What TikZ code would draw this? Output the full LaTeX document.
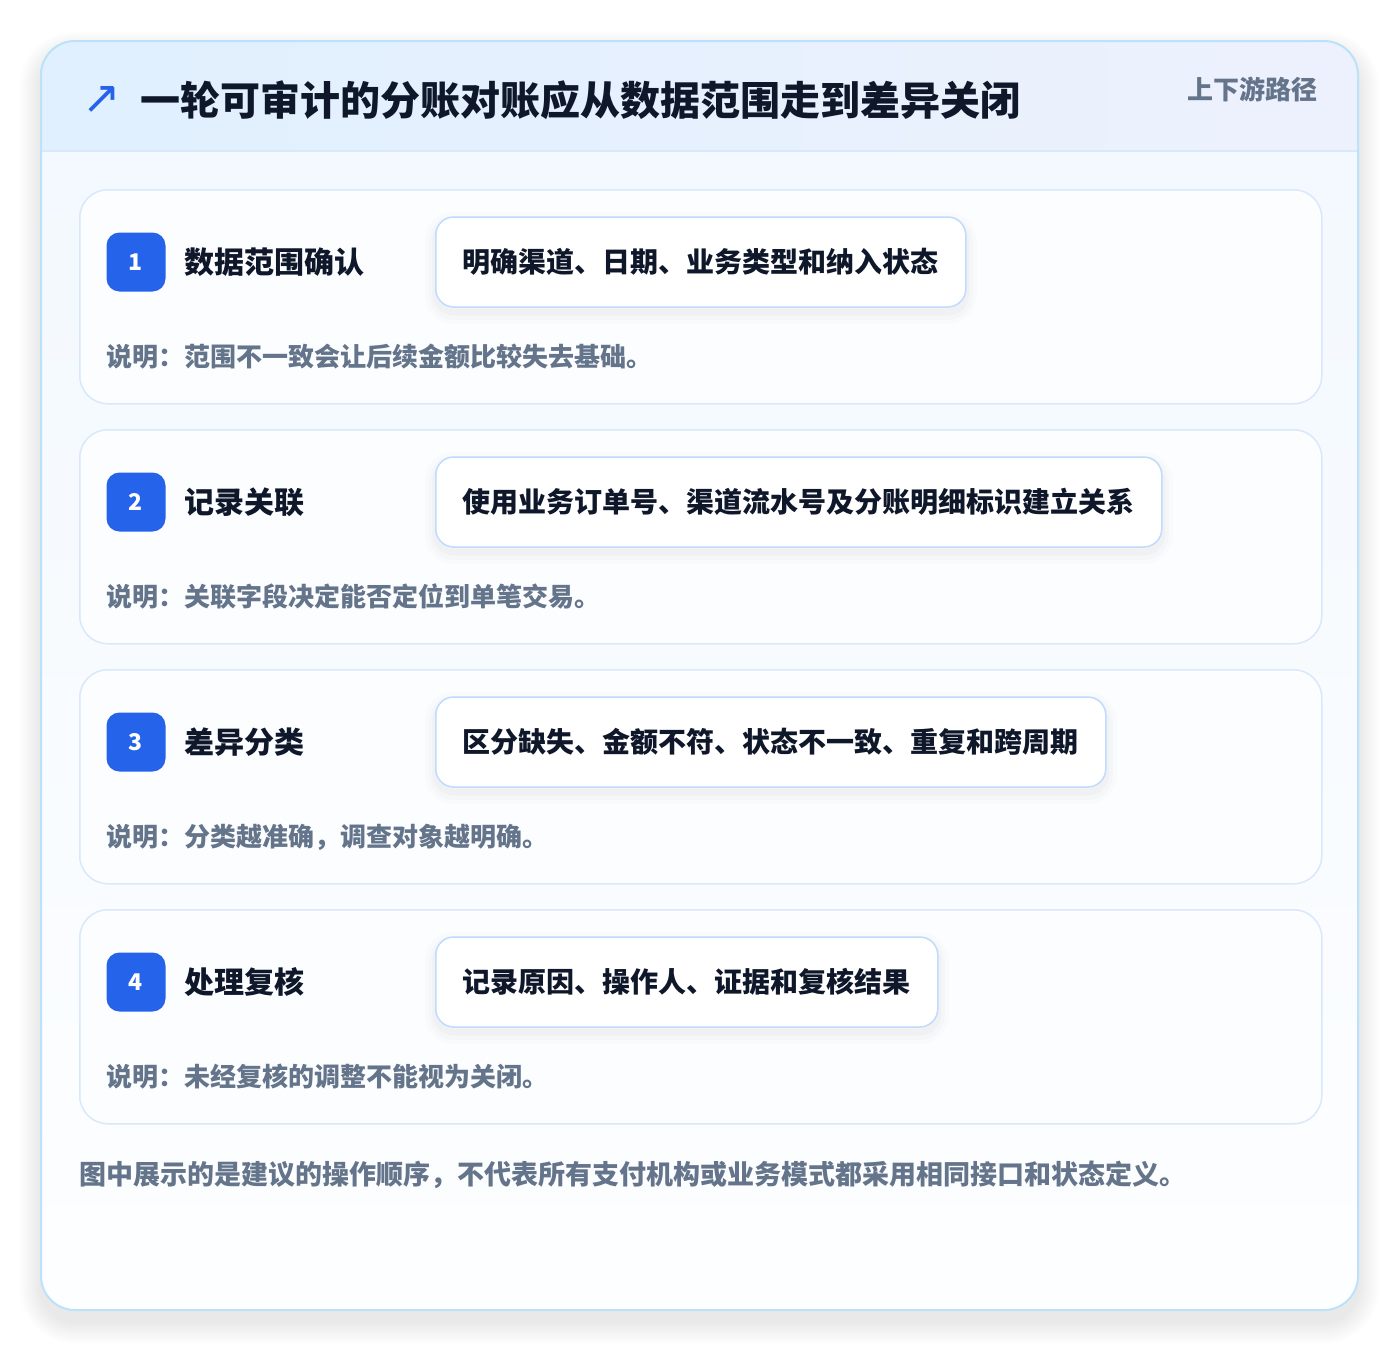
\documentclass[tikz,border=0pt]{standalone}
\usepackage{fontspec}
\setmainfont{Noto Sans CJK SC}
\newfontfamily\symfont{DejaVu Sans}
\newcommand\fsz[1]{\fontsize{#1}{#1}\selectfont}
\definecolor{badgeblue}{HTML}{2563EB}
\definecolor{inktext}{HTML}{0F172A}
\definecolor{graytext}{HTML}{64748B}
\definecolor{cardline}{HTML}{D9E8FB}
\definecolor{boxline}{HTML}{BFDBFE}
\definecolor{outerline}{HTML}{BAE2FA}
\definecolor{headL}{HTML}{E0F0FE}
\definecolor{headR}{HTML}{EDF1FD}
\definecolor{bodyTop}{HTML}{F2F8FE}
\definecolor{bodyBot}{HTML}{FDFEFF}
\definecolor{cardfill}{HTML}{FCFDFF}
\begin{document}
\begin{tikzpicture}[x=1pt,y=-1pt,
  stepcard/.style={draw=cardline, line width=1.5pt, fill=cardfill, rounded corners=28pt,
    minimum width=1242pt, minimum height=214pt, anchor=north west, inner sep=0pt},
  badge/.style={fill=badgeblue, rounded corners=13pt, minimum size=59pt, inner sep=0pt,
    text=white, font=\fsz{23}\bfseries},
  steptitle/.style={anchor=west, inner sep=0pt, text=inktext, font=\fsz{30}\bfseries},
  softshadow/.style={
    preaction={draw=black, draw opacity=0.012, line width=22pt, transform canvas={yshift=-6pt}},
    preaction={draw=black, draw opacity=0.015, line width=14pt, transform canvas={yshift=-6pt}},
    preaction={draw=black, draw opacity=0.02, line width=7pt, transform canvas={yshift=-5pt}}},
  contentbox/.style={softshadow, draw=boxline, line width=1.5pt, fill=white, rounded corners=18pt,
    minimum height=90pt, inner xsep=27pt, inner ysep=0pt, anchor=west, text=inktext,
    font=\fsz{28}\bfseries},
  desc/.style={anchor=west, inner sep=0pt, text=graytext, font=\fsz{26}\bfseries}
]
\useasboundingbox (0,0) rectangle (1400,1352);
\fill[white] (0,0) rectangle (1400,1352);
% outer shadow
\foreach \k in {1,...,22}{
  \pgfmathsetmacro\rr{34+\k}
  \fill[black, fill opacity=0.004, rounded corners=\rr pt] (41-\k,41-\k+12) rectangle (1358+\k,1310+\k+12);
}
% outer card body
\path[top color=bodyTop, bottom color=bodyBot, rounded corners=34pt] (41,41) rectangle (1358,1310);
\begin{scope}
  \clip[rounded corners=34pt] (41,41) rectangle (1358,1310);
  \fill[left color=headL, right color=headR] (41,41) rectangle (1358,151);
  \draw[cardline, line width=1.5pt] (41,151) -- (1358,151);
\end{scope}
\draw[outerline, line width=2pt, rounded corners=34pt] (41,41) rectangle (1358,1310);
% header texts
\node[inner sep=0pt, text=badgeblue, font=\symfont\fsz{46}] (icon) at (102,100) {↗};
\node[anchor=west, inner sep=0pt, text=inktext, font=\fsz{40}\bfseries] (title) at (140,100)
  {一轮可审计的分账对账应从数据范围走到差异关闭};
\node[anchor=east, inner sep=0pt, text=graytext, font=\fsz{26}\bfseries] (tag) at (1318,89) {上下游路径};
% steps
\foreach \i/\t/\c/\d in {
  1/数据范围确认/明确渠道、日期、业务类型和纳入状态/说明：范围不一致会让后续金额比较失去基础。,
  2/记录关联/使用业务订单号、渠道流水号及分账明细标识建立关系/说明：关联字段决定能否定位到单笔交易。,
  3/差异分类/区分缺失、金额不符、状态不一致、重复和跨周期/说明：分类越准确，调查对象越明确。,
  4/处理复核/记录原因、操作人、证据和复核结果/说明：未经复核的调整不能视为关闭。}{
  \pgfmathsetmacro\ty{189+240*(\i-1)}
  \node[stepcard] (card\i) at (79,\ty) {};
  \node[badge] (badge\i) at (136,\ty+73) {\i};
  \node[steptitle] (stitle\i) at (184,\ty+73) {\t};
  \node[contentbox] (box\i) at (435,\ty+73) {\c};
  \node[desc] (desc\i) at (106,\ty+168) {\d};
}
% footer
\node[anchor=west, inner sep=0pt, text=graytext, font=\fsz{27}\bfseries] (foot) at (79,1175)
  {图中展示的是建议的操作顺序，不代表所有支付机构或业务模式都采用相同接口和状态定义。};
\end{tikzpicture}
\end{document}
